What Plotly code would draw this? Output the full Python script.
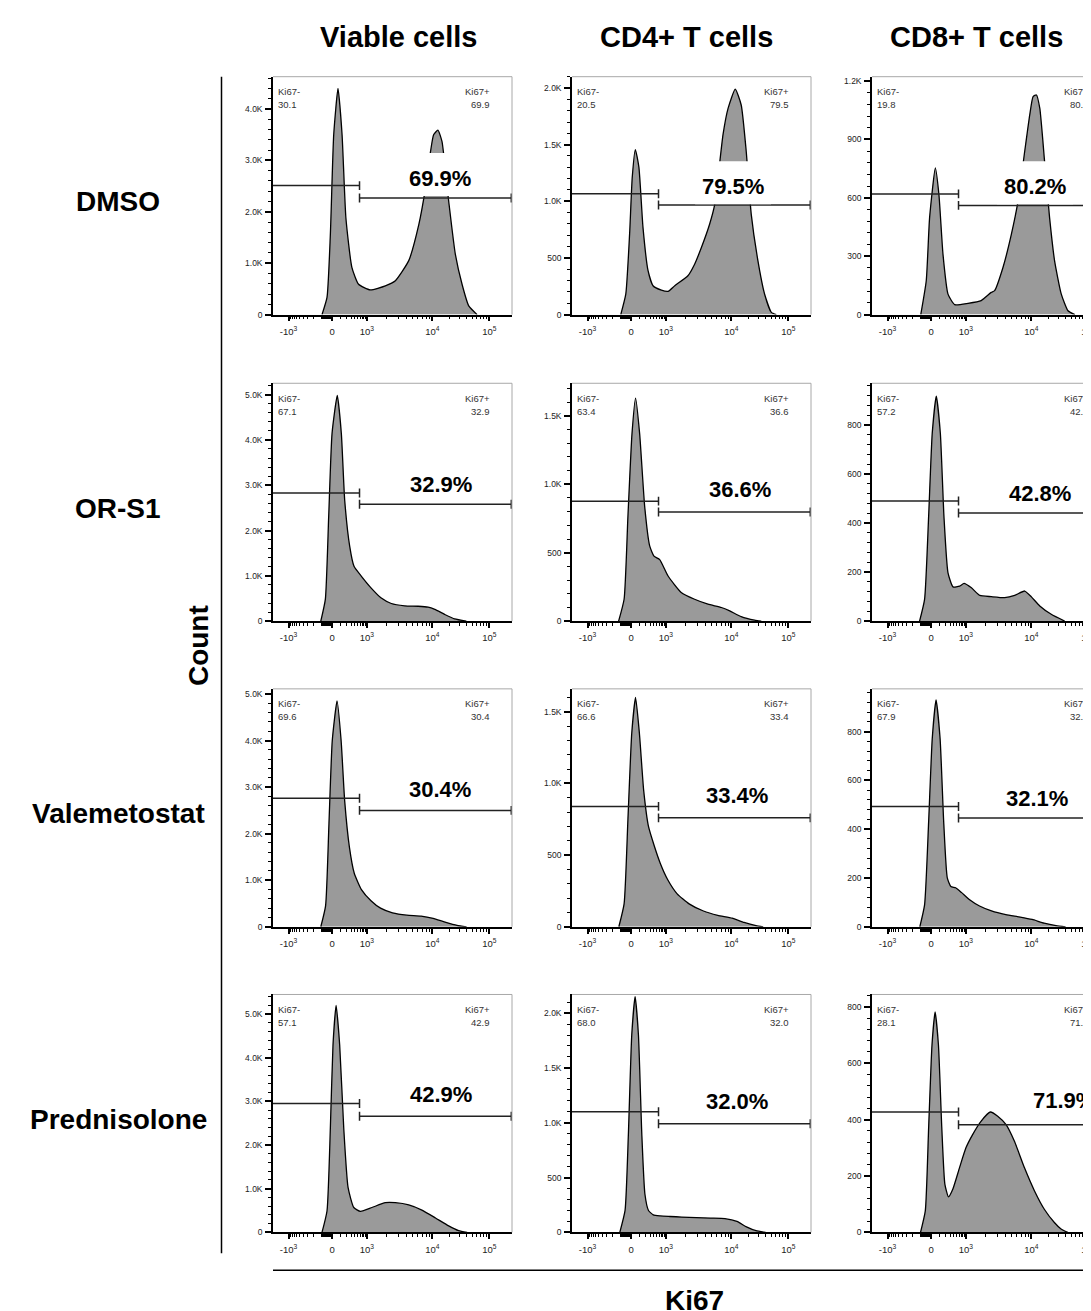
import math
import plotly.graph_objects as go

W, H = 1091, 1311

# ---------------- data ----------------
conditions = ["DMSO", "OR-S1", "Valemetostat", "Prednisolone"]
populations = ["Viable cells", "CD4+ T cells", "CD8+ T cells"]

# Ki67 axis decades (biexponential display, channel units 0-1000 across a panel)
x_tick_values = [-1000, 0, 1000, 10000, 100000]
x_tick_labels = ["-10<sup>3</sup>", "0", "10<sup>3</sup>", "10<sup>4</sup>", "10<sup>5</sup>"]
x_tick_channels = [65, 247, 393, 667, 905]

# histogram outlines: Ki67 channel vs count
dmso_viable_x = [205, 226, 240, 254, 272, 289, 305, 330, 358, 407, 470, 512, 568, 610, 638, 659, 672, 690, 707, 735, 763, 791, 819, 854]
dmso_viable_y = [0, 335, 1560, 3500, 4400, 3500, 1880, 920, 590, 480, 560, 660, 1050, 1750, 2460, 3170, 3500, 3590, 3370, 2210, 1170, 590, 170, 0]
dmso_cd4_x = [204, 225, 241, 252, 265, 280, 297, 318, 339, 374, 402, 430, 485, 513, 541, 576, 597, 632, 653, 683, 708, 729, 750, 778, 806, 834, 855]
dmso_cd4_y = [0, 180, 710, 1210, 1457, 1300, 770, 390, 255, 216, 205, 255, 343, 445, 590, 800, 970, 1590, 1820, 1990, 1850, 1440, 885, 475, 180, 20, 0]
dmso_cd8_x = [204, 227, 241, 265, 280, 297, 318, 346, 402, 457, 499, 513, 548, 583, 611, 639, 660, 674, 688, 702, 722, 743, 764, 792, 820, 849]
dmso_cd8_y = [0, 174, 498, 753, 617, 310, 105, 51, 58, 72, 114, 123, 242, 412, 583, 839, 1026, 1120, 1128, 1060, 788, 498, 276, 105, 20, 0]

ors1_viable_x = [200, 219, 233, 247, 269, 286, 300, 321, 339, 370, 411, 453, 495, 551, 607, 649, 677, 718, 760, 809]
ors1_viable_y = [0, 480, 2310, 4140, 4980, 4140, 2670, 1650, 1210, 990, 730, 510, 390, 340, 330, 310, 260, 150, 50, 0]
ors1_cd4_x = [195, 218, 234, 251, 266, 283, 304, 325, 343, 367, 402, 457, 513, 569, 625, 660, 708, 764, 792]
ors1_cd4_y = [0, 160, 766, 1370, 1630, 1370, 840, 550, 475, 450, 330, 210, 160, 124, 100, 75, 33, 7, 0]
ors1_cd8_x = [199, 220, 237, 252, 269, 286, 301, 318, 339, 367, 385, 416, 451, 499, 555, 597, 639, 667, 702, 750, 806]
ors1_cd8_y = [0, 89, 428, 766, 918, 766, 428, 197, 140, 143, 154, 136, 105, 100, 96, 105, 123, 99, 62, 28, 0]

vale_viable_x = [200, 220, 234, 248, 268, 285, 300, 320, 340, 370, 410, 450, 500, 560, 620, 670, 720, 770, 810]
vale_viable_y = [0, 450, 2200, 4000, 4850, 4000, 2700, 1700, 1150, 800, 560, 400, 300, 250, 230, 180, 100, 30, 0]
vale_cd4_x = [196, 218, 234, 250, 266, 282, 300, 320, 345, 370, 400, 440, 490, 550, 610, 670, 720, 770, 800]
vale_cd4_y = [0, 160, 750, 1350, 1600, 1350, 950, 700, 560, 440, 330, 230, 160, 110, 80, 60, 30, 8, 0]
vale_cd8_x = [200, 220, 237, 252, 268, 285, 300, 315, 330, 350, 375, 410, 450, 500, 560, 620, 670, 720, 770, 810]
vale_cd8_y = [0, 90, 430, 770, 930, 770, 430, 200, 165, 160, 140, 110, 85, 65, 50, 40, 30, 15, 5, 0]

pred_viable_x = [205, 226, 240, 251, 264, 279, 296, 314, 338, 366, 414, 470, 512, 568, 623, 680, 735, 777, 812]
pred_viable_y = [0, 490, 2390, 4290, 5200, 4290, 2390, 1030, 570, 480, 570, 680, 680, 630, 510, 330, 150, 40, 0]
pred_cd4_x = [200, 222, 236, 250, 264, 278, 292, 305, 320, 340, 370, 410, 460, 520, 580, 640, 690, 730, 770, 810]
pred_cd4_y = [0, 200, 900, 1800, 2150, 1800, 900, 350, 200, 160, 150, 145, 140, 135, 130, 125, 100, 50, 15, 0]
pred_cd8_x = [203, 223, 237, 251, 264, 278, 292, 305, 320, 338, 366, 393, 421, 456, 495, 526, 561, 596, 638, 680, 721, 763, 791, 819]
pred_cd8_y = [0, 76, 371, 665, 782, 665, 371, 170, 126, 153, 229, 300, 347, 394, 427, 412, 382, 323, 229, 147, 82, 35, 12, 0]

hist_x = [[dmso_viable_x, dmso_cd4_x, dmso_cd8_x],
          [ors1_viable_x, ors1_cd4_x, ors1_cd8_x],
          [vale_viable_x, vale_cd4_x, vale_cd8_x],
          [pred_viable_x, pred_cd4_x, pred_cd8_x]]
hist_y = [[dmso_viable_y, dmso_cd4_y, dmso_cd8_y],
          [ors1_viable_y, ors1_cd4_y, ors1_cd8_y],
          [vale_viable_y, vale_cd4_y, vale_cd8_y],
          [pred_viable_y, pred_cd4_y, pred_cd8_y]]

ki67_neg = [[30.1, 20.5, 19.8], [67.1, 63.4, 57.2], [69.6, 66.6, 67.9], [57.1, 68.0, 28.1]]
ki67_pos = [[69.9, 79.5, 80.2], [32.9, 36.6, 42.8], [30.4, 33.4, 32.1], [42.9, 32.0, 71.9]]

# gate heights (count) and gate split channel
gate_neg_y = [[2510, 1067, 620], [2830, 877, 490], [2760, 840, 493], [2950, 1100, 427]]
gate_pos_y = [[2270, 968, 561], [2580, 797, 441], [2500, 760, 446], [2660, 990, 382]]
gate_split = 362

# y-axis scales
y_max = [[4630, 2100, 1222], [5250, 1738, 970], [5110, 1660, 975], [5450, 2170, 844]]
y_step = [[1000, 500, 300], [1000, 500, 200], [1000, 500, 200], [1000, 500, 200]]

# ---------------- layout geometry (pixels) ----------------
col_left = [265, 564, 864]
panel_w = 239
row_top = [68, 376, 683, 990]
panel_h = 239
title_x = [390, 678, 968]

# label placement: (channel x, fraction of panel height)
pct_pos = [[(700, 0.574), (674, 0.54), (682, 0.54)],
           [(704, 0.576), (701, 0.552), (701, 0.538)],
           [(700, 0.575), (690, 0.55), (690, 0.54)],
           [(703, 0.578), (690, 0.55), (805, 0.553)]]

FONT = "Liberation Sans, Arial, sans-serif"


def chan(v):
    """Biexponential-like display transform used for minor ticks."""
    w = 150.0
    if v >= 10000:
        return 667 + (math.log10(v) - 4) * (905 - 667)
    if v >= 1000:
        return 393 + (math.log10(v) - 3) * (667 - 393)
    if v >= 0:
        return 247 + 146 * math.asinh(v / w) / math.asinh(1000 / w)
    return 247 - 182 * math.asinh(-v / w) / math.asinh(1000 / w)


minor_vals = []
minor_vals += [-v for v in range(100, 1000, 100)]
minor_vals += [-v for v in range(10, 100, 10)]
minor_vals += list(range(100, 1000, 100))
minor_vals += [k * 1000 for k in range(2, 10)]
minor_vals += [k * 10000 for k in range(2, 10)]
minor_chan = [chan(v) for v in minor_vals]


def fmt(v):
    if v == 0:
        return "0"
    if v >= 1000:
        return f"{v/1000:.1f}K"
    return str(int(v))


def px(x):
    return x / W


def py(y):
    return 1 - y / H


fig = go.Figure()
shapes = []
annotations = []
layout_axes = {}

for r in range(4):
    for c in range(3):
        n = r * 3 + c + 1
        xa = "x" if n == 1 else f"x{n}"
        ya = "y" if n == 1 else f"y{n}"
        xl = "xaxis" if n == 1 else f"xaxis{n}"
        yl = "yaxis" if n == 1 else f"yaxis{n}"
        ymax = y_max[r][c]

        left = col_left[c]
        right = min(left + panel_w, W)
        xr_max = 1000 * (right - left) / panel_w
        top = row_top[r]
        bot = top + panel_h

        # histogram
        fig.add_trace(go.Scatter(
            x=hist_x[r][c], y=hist_y[r][c], xaxis=xa, yaxis=ya,
            mode="lines", line=dict(color="black", width=1.3, shape="spline", smoothing=0.5),
            fill="tozeroy", fillcolor="#9a9a9a", hoverinfo="skip", showlegend=False))

        # gates
        lg, rg = gate_neg_y[r][c], gate_pos_y[r][c]
        cap = ymax * 4.5 / panel_h
        gx = [0, gate_split, None, gate_split, gate_split, None,
              gate_split, 1000, None, gate_split, gate_split, None, 997, 997]
        gy = [lg, lg, None, lg - cap, lg + cap, None,
              rg, rg, None, rg - cap, rg + cap, None, rg - cap, rg + cap]
        fig.add_trace(go.Scatter(
            x=gx, y=gy, xaxis=xa, yaxis=ya, mode="lines",
            line=dict(color="#222", width=1.5), hoverinfo="skip", showlegend=False))

        step = y_step[r][c]
        yt = list(range(0, int(ymax) + 1, step))
        layout_axes[xl] = dict(
            domain=[px(left), px(right)], anchor=ya, range=[0, xr_max],
            tickmode="array", tickvals=x_tick_channels, ticktext=x_tick_labels,
            ticks="outside", ticklen=5, tickwidth=1.5, tickcolor="black",
            showline=True, linecolor="black", linewidth=1.5,
            showgrid=False, zeroline=False, ticklabelstandoff=2,
            tickfont=dict(family=FONT, size=9.5, color="#222"),
            minor=dict(tickmode="array", tickvals=minor_chan, ticks="outside",
                       ticklen=3, tickwidth=1, tickcolor="black"),
            fixedrange=True)
        layout_axes[yl] = dict(
            domain=[py(bot), py(top)], anchor=xa, range=[0, ymax],
            tickmode="array", tickvals=yt, ticktext=[fmt(v) for v in yt],
            ticks="outside", ticklen=6, tickwidth=1.5, tickcolor="black",
            showline=True, linecolor="black", linewidth=1.5,
            showgrid=False, zeroline=False, ticklabelstandoff=1,
            tickfont=dict(family=FONT, size=8.5, color="#222"),
            minor=dict(dtick=step / 5, ticks="outside", ticklen=3, tickwidth=1,
                       tickcolor="black"),
            fixedrange=True)

        # panel frame (top + right), grey
        shapes.append(dict(type="line", xref="paper", yref="paper",
                           x0=px(left), x1=px(right), y0=py(top), y1=py(top),
                           line=dict(color="#a8a8a8", width=1)))
        if left + panel_w <= W:
            shapes.append(dict(type="line", xref="paper", yref="paper",
                               x0=px(right), x1=px(right), y0=py(top), y1=py(bot),
                               line=dict(color="#a8a8a8", width=1)))

        # white label box + percentage
        lx, lyf = pct_pos[r][c]
        ly = lyf * ymax
        shapes.append(dict(type="rect", xref=xa, yref=ya, layer="above",
                           xsizemode="pixel", ysizemode="pixel",
                           xanchor=lx, yanchor=ly, x0=-38, x1=38, y0=-18, y1=25,
                           fillcolor="white", line=dict(width=0)))
        annotations.append(dict(xref=xa, yref=ya, x=lx, y=ly, text=f"<b>{ki67_pos[r][c]:.1f}%</b>",
                                showarrow=False, xanchor="center", yanchor="middle",
                                font=dict(family=FONT, size=22, color="black")))

        # corner labels
        for text, yoff in (("Ki67-", 15), (f"{ki67_neg[r][c]:.1f}", 28)):
            annotations.append(dict(xref="paper", yref="paper", x=px(left + 3), y=py(top + yoff),
                                    text=text, showarrow=False, xanchor="left", yanchor="middle",
                                    font=dict(family=FONT, size=9.5, color="#333")))
        for text, yoff in (("Ki67+", 15), (f"{ki67_pos[r][c]:.1f}", 28)):
            annotations.append(dict(xref="paper", yref="paper", x=px(left + 219), y=py(top + yoff),
                                    text=text, showarrow=False, xanchor="right", yanchor="middle",
                                    font=dict(family=FONT, size=9.5, color="#333")))

# column titles
for c, name in enumerate(populations):
    annotations.append(dict(xref="paper", yref="paper", x=px(title_x[c]), y=py(28),
                            text=f"<b>{name}</b>", showarrow=False, xanchor="center", yanchor="middle",
                            font=dict(family=FONT, size=29, color="black")))
# row labels
for r, name in enumerate(conditions):
    annotations.append(dict(xref="paper", yref="paper", x=px(110), y=py(row_top[r] + panel_h / 2 + 6),
                            text=f"<b>{name}</b>", showarrow=False, xanchor="center", yanchor="middle",
                            font=dict(family=FONT, size=28, color="black")))
# Count
annotations.append(dict(xref="paper", yref="paper", x=px(190), y=py(640), text="<b>Count</b>",
                        textangle=-90, showarrow=False, xanchor="center", yanchor="middle",
                        font=dict(family=FONT, size=28, color="black")))
# Ki67
annotations.append(dict(xref="paper", yref="paper", x=px(686), y=py(1297), text="<b>Ki67</b>",
                        showarrow=False, xanchor="center", yanchor="middle",
                        font=dict(family=FONT, size=28, color="black")))

shapes.append(dict(type="line", xref="paper", yref="paper", x0=px(213.5), x1=px(213.5),
                   y0=py(68), y1=py(1250), line=dict(color="black", width=1.5)))
shapes.append(dict(type="line", xref="paper", yref="paper", x0=px(265), x1=1,
                   y0=py(1267), y1=py(1267), line=dict(color="black", width=1.5)))

fig.update_layout(width=W, height=H, margin=dict(l=0, r=0, t=0, b=0),
                  paper_bgcolor="white", plot_bgcolor="white",
                  shapes=shapes, annotations=annotations, showlegend=False, **layout_axes)

fig.write_html("out.html")
